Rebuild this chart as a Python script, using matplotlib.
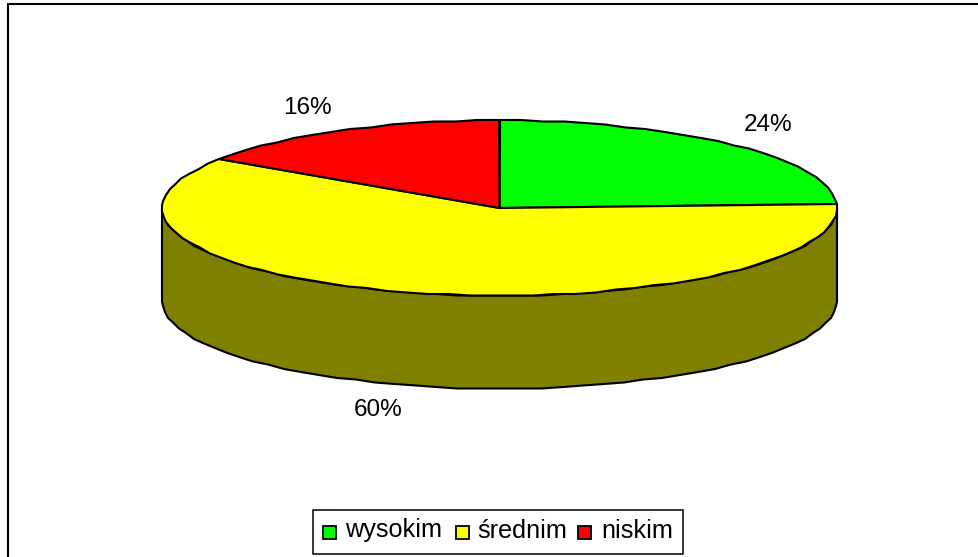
import matplotlib
matplotlib.use('Agg')
import matplotlib.pyplot as plt
from matplotlib.patches import Polygon, Rectangle
import numpy as np

# dane
categories = ['wysokim', 'średnim', 'niskim']
values = [24.4, 60.0, 15.6]
colors = ['#00FF00', '#FFFF00', '#FF0000']
side_color = '#808000'

W, H = 979, 557
plt.rcParams['font.family'] = ['Liberation Sans', 'DejaVu Sans']
fig = plt.figure(figsize=(W / 100, H / 100), dpi=100)
ax = fig.add_axes([0, 0, 1, 1])
ax.set_xlim(0, W)
ax.set_ylim(H, 0)
ax.axis('off')

# geometria tortu 3D
cx, cy = 499.5, 208
rx, ry = 337.5, 87.5
depth = 93
lw = 1.5


def rim(a0, a1, dy=0):
    # punkty na elipsie, katy w stopniach, zgodnie z zegarem od gory
    n = max(int(abs(a1 - a0) / 3.5), 4)
    t = np.radians(np.linspace(a0, a1, n))
    x = cx + rx * np.sin(t)
    y = cy - ry * np.cos(t) + dy
    # lekko poszarpana krawedz jak w oryginale
    return np.column_stack([np.round(x), np.round(y / 1.5) * 1.5])


# ramka (bez prawej krawedzi i dolu)
ax.plot([8, 8, W], [H, 4, 4], color='black', lw=1.5, solid_joinstyle='miter')

# bok
front = rim(90, 270)
side = np.vstack([front + [0, depth], front[::-1]])
ax.add_patch(Polygon(side, closed=True, fc=side_color, ec='black', lw=lw, zorder=1))

# wycinki
sweeps = np.array(values) / sum(values) * 360
start = 0
for v, col in zip(sweeps, colors):
    pts = np.vstack([[cx, cy], rim(start, start + v)])
    ax.add_patch(Polygon(pts, closed=True, fc=col, ec='black', lw=lw,
                         joinstyle='round', zorder=2))
    start += v

# etykiety
label_pos = [(768, 131), (378.5, 416), (307, 114)]
for v, (x, y) in zip(values, label_pos):
    ax.text(x, y, f'{v:.0f}%', ha='center', va='baseline', fontsize=17.5,
            color='black', zorder=3)

# legenda
ax.add_patch(Rectangle((313.5, 510), 370, 44, fc='white', ec='black', lw=1.1, zorder=3))
leg_box = [323, 456, 578]
leg_txt = [345, 477.5, 601]
for bx, tx, name, col in zip(leg_box, leg_txt, categories, colors):
    ax.add_patch(Rectangle((bx, 526), 13, 13, fc=col, ec='black', lw=1.3, zorder=4))
    ax.text(tx, 537.5, name, ha='left', va='baseline', fontsize=18.2,
            color='black', zorder=4)

fig.savefig('out.png', dpi=100)
